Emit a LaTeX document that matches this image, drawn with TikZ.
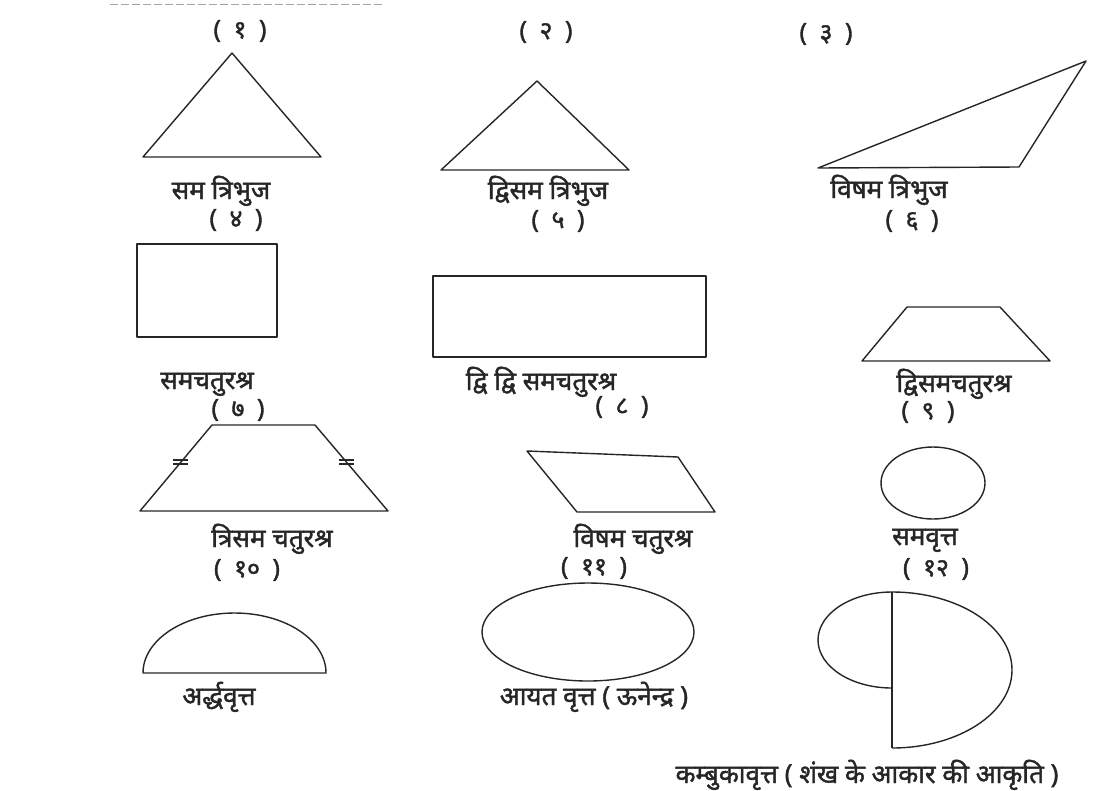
\documentclass[tikz,border=0pt]{standalone}
\usepackage{fontspec}
\usetikzlibrary{calc}
\newfontfamily\deva[Script=Devanagari,FakeBold=1.6]{Noto Sans}
\newcommand{\numlbl}[1]{(\hspace{0.5em}#1\hspace{0.5em})}
\begin{document}
\begin{tikzpicture}[x=1pt,y=-1pt,
  fig/.style={line width=1.4pt, line join=round, draw=black!85},
  lbl/.style={font=\deva\fontsize{26}{30}\selectfont, inner sep=0pt, anchor=base, text=black!85},
  num/.style={font=\deva\fontsize{25}{28}\selectfont, inner sep=0pt, anchor=base, text=black!85},
  tick/.style={line width=1.2pt, draw=black!85}]
\useasboundingbox (0,0) rectangle (1102,790);
% faint scan rule at top
\draw[black!35, line width=0.8pt, dash pattern=on 8pt off 3pt] (110,4) -- (385,4);
% ---------- row 1 ----------
\node[num] (n1) at (240,38) {\numlbl{१}};
\node[num] (n2) at (546,39) {\numlbl{२}};
\node[num] (n3) at (826,41) {\numlbl{३}};
\draw[fig] (143,157) -- (321,157) -- (232,53) -- cycle;
\draw[fig] (441,170) -- (629,170) -- (537,81) -- cycle;
\draw[fig] (818,168) -- (1019,167) -- (1086,61) -- cycle;
\node[lbl] (l1) at (221,199) {सम त्रिभुज};
\node[lbl] (l2) at (548,199) {द्विसम त्रिभुज};
\node[lbl] (l3) at (889,198) {विषम त्रिभुज};
\node[num] (n4) at (236,227) {\numlbl{४}};
\node[num] (n5) at (558,228) {\numlbl{५}};
\node[num] (n6) at (912,228) {\numlbl{६}};
% ---------- row 2 ----------
\draw[fig] (137,244) rectangle (277,337);
\draw[fig] (433,276) rectangle (706,357);
\draw[fig] (862,361) -- (1050,361) -- (1000,307) -- (907,307) -- cycle;
\node[lbl] (l4) at (207,389) {समचतुरश्र};
\node[lbl] (l5) at (541,390) {द्वि द्वि समचतुरश्र};
\node[lbl] (l6) at (954,392) {द्विसमचतुरश्र};
\node[num] (n7) at (238,417) {\numlbl{७}};
\node[num] (n8) at (622,414) {\numlbl{८}};
\node[num] (n9) at (928,419) {\numlbl{९}};
% ---------- row 3 ----------
\coordinate (p1) at (140,511);
\coordinate (p2) at (388,511);
\coordinate (p3) at (315,425);
\coordinate (p4) at (212,425);
\draw[fig] (p1) -- (p2) -- (p3) -- (p4) -- cycle;
\coordinate (tA) at ($(p1)!0.57!(p4)$);
\coordinate (tB) at ($(p2)!0.57!(p3)$);
\draw[tick] ($(tA)+(-8,-2)$) -- ($(tA)+(7,-2)$);
\draw[tick] ($(tA)+(-8,2)$) -- ($(tA)+(7,2)$);
\draw[tick] ($(tB)+(-7,-2)$) -- ($(tB)+(8,-2)$);
\draw[tick] ($(tB)+(-7,2)$) -- ($(tB)+(8,2)$);
\draw[fig] (527,451) -- (678,457) -- (715,512) -- (577,512) -- cycle;
\draw[fig] (933,483) ellipse [x radius=52, y radius=36];
\node[lbl] (l7) at (272,547) {त्रिसम चतुरश्र};
\node[lbl] (l8) at (633,547) {विषम चतुरश्र};
\node[lbl] (l9) at (925,545) {समवृत्त};
\node[num] (n10) at (247,577) {\numlbl{१०}};
\node[num] (n11) at (594,575) {\numlbl{११}};
\node[num] (n12) at (936,576) {\numlbl{१२}};
% ---------- row 4 ----------
\draw[fig] (143,673) arc[start angle=180, end angle=360, x radius=91.5, y radius=60] -- cycle;
\draw[fig] (588,632) ellipse [x radius=106, y radius=49];
\draw[fig] (892,592) -- (892,748);
\draw[fig] (892,592) arc[start angle=270, end angle=450, x radius=120, y radius=78];
\draw[fig] (892,592) arc[start angle=270, end angle=90, x radius=74, y radius=48];
\node[lbl] (l10) at (219,705) {अर्द्धवृत्त};
\node[lbl] (l11) at (594,705) {आयत वृत्त ( ऊनेन्द्र )};
\node[lbl] (l12) at (867,783) {कम्बुकावृत्त ( शंख के आकार की आकृति )};
\end{tikzpicture}
\end{document}
